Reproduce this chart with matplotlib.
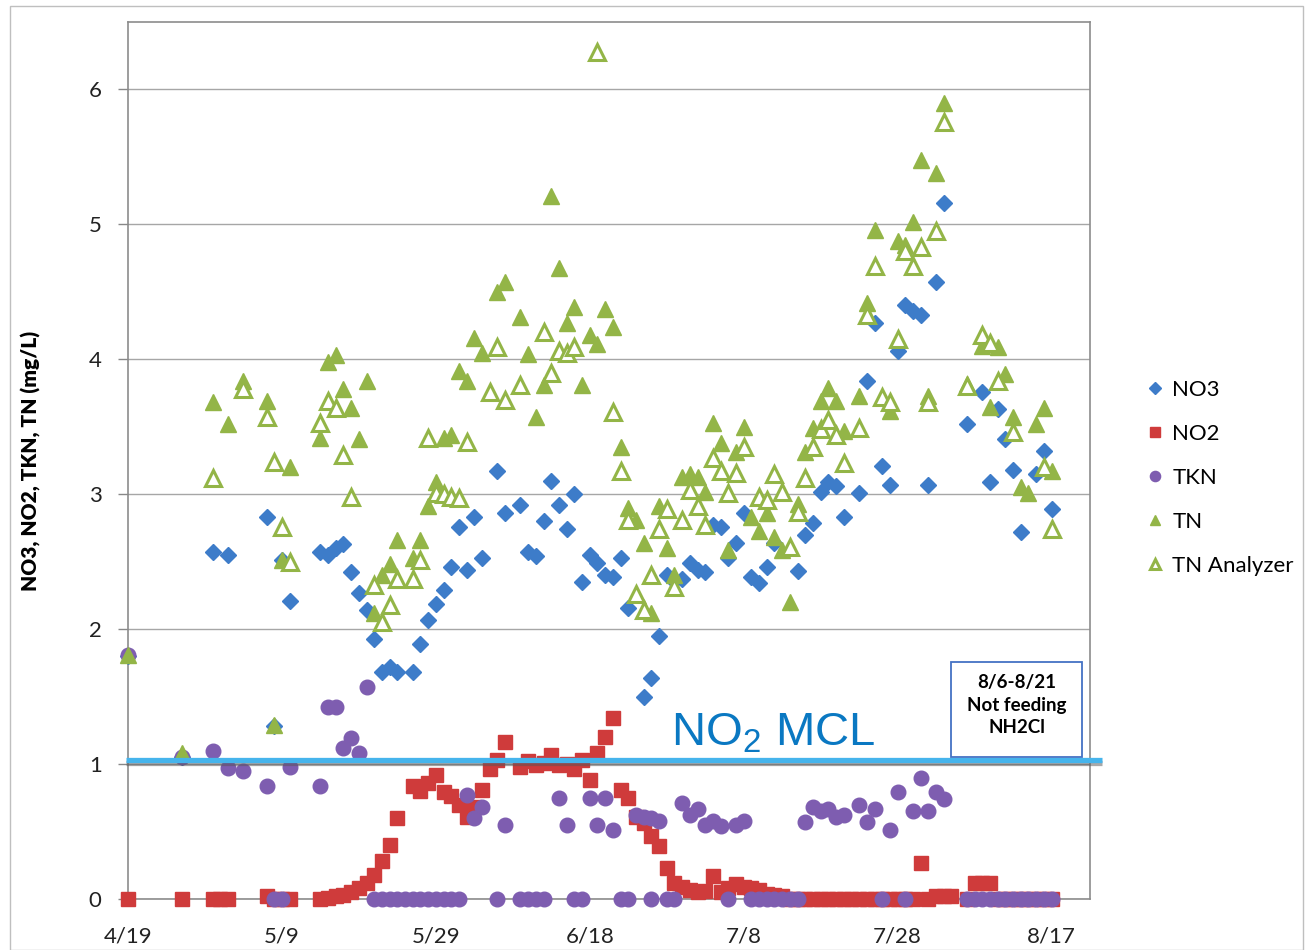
import matplotlib
matplotlib.use("Agg")
import matplotlib.pyplot as plt
from matplotlib.patches import Rectangle
import matplotlib.patheffects as pe

plt.rcParams['font.family'] = ['Lato', 'DejaVu Sans']
plt.rcParams['mathtext.fontset'] = 'custom'
plt.rcParams['mathtext.rm'] = 'Liberation Sans'

# ---- data (x = days since 4/19) ----
tick_days = [0, 20, 40, 60, 80, 100, 120]
tick_labels = ["4/19", "5/9", "5/29", "6/18", "7/8", "7/28", "8/17"]

no3_day = [0, 7, 11, 13, 18, 19, 20, 21, 25, 26, 27, 28, 29, 30, 31, 32, 33, 34, 35, 37, 38, 39, 40,
           41, 42, 43, 44, 45, 46, 48, 49, 51, 52, 53, 54, 55, 56, 57, 58, 59, 60, 61, 62, 63, 64, 65,
           67, 68, 69, 70, 71, 72, 73, 74, 75, 76, 77, 78, 79, 80, 81, 82, 83, 84, 87, 88, 89, 90, 91,
           92, 93, 95, 96, 97, 98, 99, 100, 101, 102, 103, 104, 105, 106, 109, 111, 112, 113, 114, 115,
           116, 118, 119, 120]
no3_val = [1.80, 1.05, 2.57, 2.55, 2.83, 1.28, 2.51, 2.21, 2.57, 2.55, 2.60, 2.63, 2.42, 2.27, 2.14,
           1.93, 1.68, 1.72, 1.68, 1.68, 1.89, 2.07, 2.19, 2.29, 2.46, 2.76, 2.44, 2.83, 2.53, 3.17, 2.86,
           2.92, 2.57, 2.54, 2.80, 3.10, 2.92, 2.74, 3.00, 2.35, 2.55, 2.49, 2.40, 2.39, 2.53, 2.16, 1.50,
           1.64, 1.95, 2.40, 2.36, 2.37, 2.49, 2.44, 2.42, 2.77, 2.76, 2.53, 2.64, 2.86, 2.39, 2.34, 2.46,
           2.64, 2.43, 2.70, 2.79, 3.02, 3.09, 3.06, 2.83, 3.01, 3.84, 4.27, 3.21, 3.07, 4.06, 4.40, 4.36,
           4.33, 3.07, 4.57, 5.16, 3.52, 3.76, 3.09, 3.63, 3.41, 3.18, 2.72, 3.15, 3.32, 2.89]

no2_day = [0, 7, 11, 12, 13, 18, 19, 20, 21, 25, 26, 27, 28, 29, 30, 31, 32, 33, 34, 35, 37, 38, 39,
           40, 41, 42, 43, 44, 45, 46, 47, 48, 49, 51, 52, 53, 54, 55, 56, 57, 58, 59, 60, 61, 62, 63,
           64, 65, 66, 67, 68, 69, 70, 71, 72, 73, 74, 75, 76, 77, 78, 79, 80, 81, 82, 83, 84, 85, 86,
           87, 88, 89, 90, 91, 92, 93, 94, 95, 96, 97, 98, 99, 100, 101, 102, 103, 104, 105, 106, 107,
           109, 110, 111, 112, 113, 114, 115, 116, 117, 118, 119, 120]
no2_val = [0, 0, 0, 0, 0, 0.02, 0, 0, 0, 0, 0.01, 0.02, 0.03, 0.05, 0.08, 0.12, 0.18, 0.28, 0.40, 0.60,
           0.84, 0.80, 0.86, 0.92, 0.79, 0.76, 0.70, 0.61, 0.68, 0.81, 0.96, 1.03, 1.16, 0.98, 1.02, 0.99,
           1.01, 1.07, 0.99, 1.00, 0.96, 1.03, 0.88, 1.08, 1.20, 1.34, 0.81, 0.75, 0.61, 0.56, 0.47, 0.39,
           0.23, 0.12, 0.09, 0.07, 0.05, 0.06, 0.17, 0.05, 0.08, 0.11, 0.09, 0.08, 0.07, 0.04, 0.03, 0.02,
           0, 0, 0, 0, 0, 0, 0, 0, 0, 0, 0, 0, 0, 0, 0, 0, 0, 0.27, 0, 0.02, 0.02, 0.02,
           0, 0.12, 0.12, 0.12, 0, 0, 0, 0, 0, 0, 0, 0]

tkn_day = [0, 7, 11, 13, 15, 18, 19, 20, 21, 25, 26, 27, 28, 29, 30, 31, 32, 33, 34, 35, 36, 37, 38, 39,
           40, 41, 42, 43, 44, 45, 46, 48, 49, 51, 52, 53, 54, 56, 57, 58, 59, 60, 61, 62, 63, 64, 65,
           66, 67, 68, 68, 69, 70, 71, 72, 73, 74, 75, 76, 77, 78, 79, 80, 81, 82, 83, 84, 85, 86, 87,
           88, 89, 90, 91, 92, 93, 95, 96, 97, 98, 99, 100, 101, 102, 103, 104, 105, 106, 109, 110, 111,
           112, 113, 114, 115, 116, 117, 118, 119, 120]
tkn_val = [1.81, 1.05, 1.10, 0.97, 0.95, 0.84, 0, 0, 0.98, 0.84, 1.42, 1.42, 1.12, 1.19, 1.08, 1.57,
           0, 0, 0, 0, 0, 0, 0, 0, 0, 0, 0, 0, 0.77, 0.60, 0.68, 0, 0.55, 0, 0, 0, 0, 0.75, 0.55, 0, 0,
           0.75, 0.55, 0.75, 0.51, 0, 0, 0.62, 0.61, 0.60, 0, 0.58, 0, 0, 0.71, 0.62, 0.67, 0.55, 0.58,
           0.54, 0, 0.55, 0.58, 0, 0, 0, 0, 0, 0, 0, 0.57, 0.68, 0.65, 0.67, 0.61, 0.62, 0.70, 0.57, 0.67,
           0, 0.51, 0.79, 0, 0.65, 0.90, 0.65, 0.79, 0.74, 0, 0, 0, 0, 0, 0, 0, 0, 0, 0, 0, 0]

tn_day = [0, 7, 11, 13, 15, 18, 19, 20, 21, 25, 26, 27, 28, 29, 30, 31, 32, 33, 34, 35, 37, 38, 39, 40,
          41, 42, 43, 44, 45, 46, 48, 49, 51, 52, 53, 54, 55, 56, 57, 58, 59, 60, 61, 62, 63, 64, 65,
          66, 67, 68, 69, 70, 71, 72, 73, 74, 75, 76, 77, 78, 79, 80, 81, 82, 83, 84, 85, 86, 87, 88,
          89, 90, 91, 92, 93, 95, 96, 97, 99, 100, 101, 102, 103, 104, 105, 106, 109, 111, 112, 113,
          114, 115, 116, 117, 118, 119, 120]
tn_val = [1.81, 1.08, 3.68, 3.52, 3.84, 3.69, 1.29, 2.51, 3.20, 3.42, 3.98, 4.03, 3.78, 3.64, 3.41,
          3.84, 2.12, 2.40, 2.48, 2.66, 2.53, 2.66, 2.91, 3.09, 3.42, 3.44, 3.91, 3.84, 4.16, 4.05, 4.50,
          4.57, 4.31, 4.04, 3.57, 3.81, 5.21, 4.68, 4.27, 4.39, 3.81, 4.18, 4.11, 4.37, 4.24, 3.35, 2.90,
          2.81, 2.64, 2.12, 2.91, 2.60, 2.40, 3.13, 3.15, 3.13, 3.02, 3.53, 3.38, 2.59, 3.31, 3.50, 2.83,
          2.73, 2.86, 2.68, 2.59, 2.20, 2.93, 3.31, 3.49, 3.69, 3.79, 3.69, 3.47, 3.73, 4.42, 4.96, 3.62,
          4.88, 4.85, 5.02, 5.48, 3.73, 5.38, 5.90, 3.82, 4.10, 3.65, 4.09, 3.89, 3.57, 3.05, 3.01, 3.52,
          3.64, 3.17]

tna_day = [11, 15, 18, 19, 20, 21, 25, 26, 27, 28, 29, 32, 33, 34, 35, 37, 38, 39, 40, 41, 42, 43, 44,
           47, 48, 49, 51, 54, 55, 56, 57, 58, 61, 63, 64, 65, 66, 67, 68, 69, 70, 71, 72, 73, 74, 75,
           76, 77, 78, 79, 80, 82, 83, 84, 85, 86, 87, 88, 89, 90, 91, 92, 93, 95, 96, 97, 98, 99, 100,
           101, 102, 103, 104, 105, 106, 109, 111, 112, 113, 115, 119, 120]
tna_val = [3.12, 3.78, 3.57, 3.24, 2.76, 2.50, 3.53, 3.69, 3.64, 3.29, 2.98, 2.33, 2.05, 2.18, 2.37,
           2.37, 2.51, 3.42, 3.01, 3.00, 2.98, 2.97, 3.39, 3.76, 4.09, 3.70, 3.81, 4.20, 3.90, 4.06, 4.05,
           4.09, 6.28, 3.61, 3.17, 2.81, 2.26, 2.14, 2.40, 2.74, 2.89, 2.31, 2.81, 3.03, 2.91, 2.77, 3.27,
           3.17, 3.01, 3.16, 3.35, 2.98, 2.96, 3.15, 3.02, 2.61, 2.87, 3.12, 3.35, 3.48, 3.55, 3.44, 3.23,
           3.49, 4.33, 4.69, 3.72, 3.68, 4.15, 4.80, 4.69, 4.83, 3.68, 4.95, 5.76, 3.80, 4.18, 4.12, 3.84,
           3.46, 3.20, 2.74]

mcl_value = 1.03

# ---- styles ----
c_no3 = '#3D7CC9'
c_no2 = '#CF3B3B'
c_tkn = '#7E5DB0'
c_tn = '#93B547'

fig = plt.figure(figsize=(13.05, 9.5), dpi=100)
ax = fig.add_axes([128/1305, 51/950, (1090-128)/1305, (899-22)/950])

ax.plot(no3_day, no3_val, ls='none', marker='D', ms=8.2, color=c_no3, label='NO3', zorder=3, clip_on=False)
ax.plot(no2_day, no2_val, ls='none', marker='s', ms=10, color=c_no2, label='NO2', zorder=3, clip_on=False)
ax.plot(tkn_day, tkn_val, ls='none', marker='o', ms=10.5, color=c_tkn, label='TKN', zorder=3, clip_on=False)
ax.plot(tn_day, tn_val, ls='none', marker='^', ms=11, color=c_tn, label='TN', zorder=3, clip_on=False)
ax.plot(tna_day, tna_val, ls='none', marker='^', ms=11, mfc='white', mec=c_tn, mew=2.2,
        label='TN Analyzer', zorder=3, clip_on=False)

ax.set_xlim(0, 125)
ax.set_ylim(0, 6.5)
ax.set_xticks(tick_days)
ax.set_xticklabels(tick_labels)
ax.set_yticks(range(0, 7))
ax.tick_params(axis='x', length=0, pad=20, labelsize=16, colors='#222222')
ax.tick_params(axis='y', length=7, width=1, color='#888888', pad=12, labelsize=16, labelcolor='#222222')
ax.grid(axis='y', color='#A6A6A6', lw=1)
ax.set_axisbelow(True)
for s in ax.spines.values():
    s.set_color('#8C8C8C')
    s.set_linewidth(1.2)

ax.set_ylabel('NO3, NO2, TKN, TN (mg/L)', fontsize=15, fontweight='heavy', labelpad=34)

# MCL line with shadow
ax.plot([-0.3, 126.5], [mcl_value, mcl_value], color='#45B4EC', lw=3.8, clip_on=False, zorder=4,
        solid_capstyle='butt',
        path_effects=[pe.SimpleLineShadow(offset=(0, -2.0), shadow_color='#555555', alpha=0.5),
                      pe.Normal()])
ax.text(70.6, 1.06, 'NO$_2$ MCL', fontsize=34, color='#0A78C2', family='Liberation Sans',
        ha='left', va='bottom', zorder=5)

# annotation box
box_x0, box_x1 = 106.9, 124.0
box_y0, box_y1 = mcl_value + 0.02, 1.76
ax.add_patch(Rectangle((box_x0, box_y0), box_x1 - box_x0, box_y1 - box_y0, fill=True, fc='white',
                       ec='#4472C4', lw=1.3, zorder=4))
ax.text((box_x0 + box_x1) / 2, (box_y0 + box_y1) / 2 + 0.03, '8/6-8/21\nNot feeding\nNH2Cl',
        ha='center', va='center', fontsize=13.5, fontweight='bold', linespacing=1.4, zorder=5)

leg = ax.legend(loc='center left', bbox_to_anchor=(1128/1305, 1 - 478/950),
                bbox_transform=fig.transFigure, frameon=False, fontsize=16,
                markerscale=0.7, handlelength=0.6, handletextpad=0.5, labelspacing=1.08)

# figure border
fig.add_artist(Rectangle((10/1305, 0), 1 - 12/1305, 1 - 6/950, transform=fig.transFigure,
                         fill=False, ec='#BFBFBF', lw=1))

fig.savefig('out.png', dpi=100)
